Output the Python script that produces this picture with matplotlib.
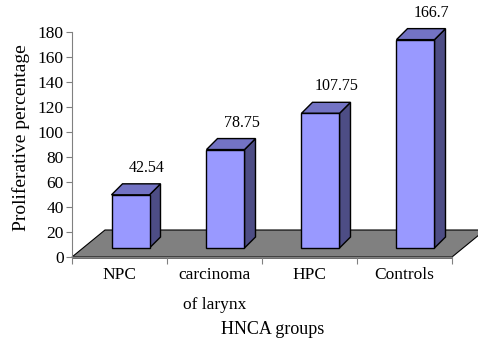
import matplotlib
matplotlib.use("Agg")
import matplotlib.pyplot as plt
from matplotlib.patches import Polygon

# proliferation by group
groups = ["NPC", "carcinoma\nof larynx", "HPC", "Controls"]
values = [42.54, 78.75, 107.75, 166.7]
value_labels = ["42.54", "78.75", "107.75", "166.7"]
y_ticks = [0, 20, 40, 60, 80, 100, 120, 140, 160, 180]

FRONT = "#9999FF"
TOP = "#7373C4"
SIDE = "#4D4D85"
FLOOR = "#808080"

plt.rcParams["font.family"] = ["Liberation Serif", "DejaVu Serif"]

fig = plt.figure(figsize=(4.78, 3.41), dpi=100)
ax = fig.add_axes([72 / 478, (341 - 257) / 341, 380 / 478, 225 / 341])

n = len(groups)
ax.set_xlim(0, n)
ax.set_ylim(0, 180)

# oblique projection offsets (x in category units, y in value units)
px_x = 1 / 95.0
px_y = 1 / 1.25
floor_dx, floor_dy = 33 * px_x, 27 * px_y
front_dx, front_dy = 11 * px_x, 9 * px_y
depth_dx, depth_dy = 11 * px_x, 11 * px_y
half_w = 19 * px_x

floor = Polygon([(0, 0), (n, 0), (n + floor_dx, floor_dy), (floor_dx, floor_dy)],
                closed=True, facecolor=FLOOR, edgecolor="black", lw=0.8,
                clip_on=False, zorder=1)
ax.add_patch(floor)
ax.plot([0, n], [0, 0], color="#404040", lw=1.8, clip_on=False, zorder=1.5,
        solid_capstyle="butt")

for i, (v, lab) in enumerate(zip(values, value_labels)):
    x0 = i + 0.5 - half_w + front_dx
    x1 = i + 0.5 + half_w + front_dx
    y0 = front_dy
    y1 = front_dy + v
    side = Polygon([(x1, y0), (x1 + depth_dx, y0 + depth_dy),
                    (x1 + depth_dx, y1 + depth_dy), (x1, y1)],
                   closed=True, facecolor=SIDE, edgecolor="black", lw=1.0, zorder=3)
    top = Polygon([(x0, y1), (x1, y1), (x1 + depth_dx, y1 + depth_dy),
                   (x0 + depth_dx, y1 + depth_dy)],
                  closed=True, facecolor=TOP, edgecolor="black", lw=1.0, zorder=3)
    front = Polygon([(x0, y0), (x1, y0), (x1, y1), (x0, y1)],
                    closed=True, facecolor=FRONT, edgecolor="black", lw=1.0, zorder=3)
    for p in (side, top, front):
        p.set_clip_on(False)
        ax.add_patch(p)
    ax.text((x0 + x1) / 2 + depth_dx + 5 * px_x, y1 + depth_dy + 16 * px_y, lab,
            ha="center", va="center", fontsize=11.5, zorder=4)

for s in ("top", "right"):
    ax.spines[s].set_visible(False)
ax.spines["left"].set_color("#808080")
ax.spines["bottom"].set_color("#808080")
ax.patch.set_alpha(0)

ax.set_yticks(y_ticks)
ax.tick_params(axis="y", length=4, color="#808080", labelsize=12.5, pad=2)

ax.set_xticks(range(n + 1))
ax.set_xticklabels([])
ax.set_xticks([i + 0.5 for i in range(n)], minor=True)
ax.set_xticklabels(groups, minor=True, fontsize=12.5, linespacing=2.2)
ax.tick_params(axis="x", which="minor", length=0, pad=7)
ax.tick_params(axis="x", which="major", length=5, color="#808080")

ax.set_xlabel("HNCA groups", fontsize=13)
ax.xaxis.set_label_coords((273 - 72) / 380, -(330 - 257) / 225)
ax.xaxis.label.set_va("center")
ax.set_ylabel("Proliferative percentage", fontsize=14)
ax.yaxis.set_label_coords((21 - 72) / 380, (257 - 137.5) / 225)
ax.yaxis.label.set_va("center")

fig.savefig("out.png", dpi=100)
